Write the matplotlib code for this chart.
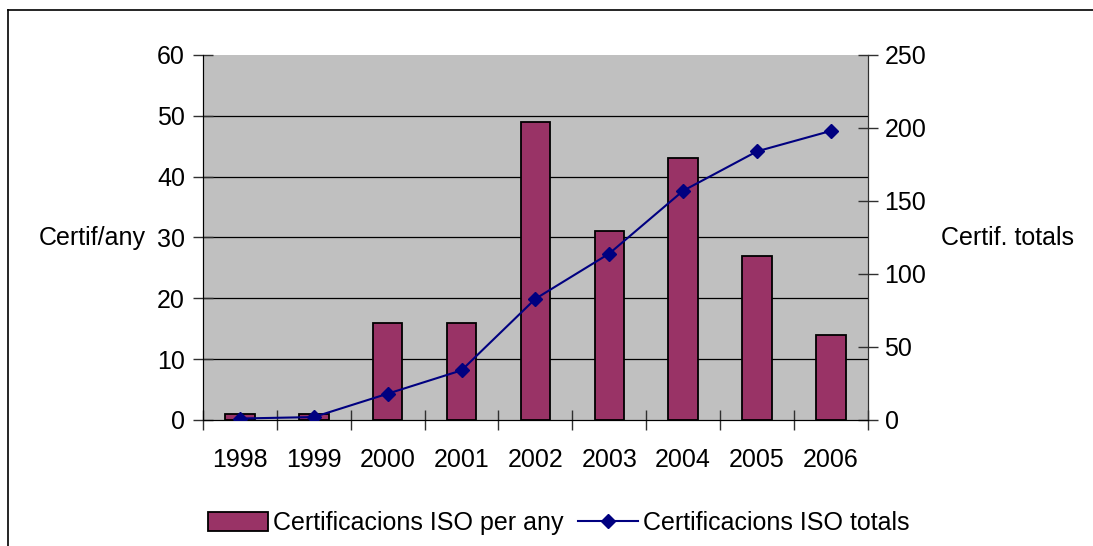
import matplotlib.pyplot as plt
import numpy as np
from matplotlib.lines import Line2D

plt.rcParams["font.family"] = ["Liberation Sans", "DejaVu Sans"]

years = ["1998", "1999", "2000", "2001", "2002", "2003", "2004", "2005", "2006"]
per_year = [1, 1, 16, 16, 49, 31, 43, 27, 14]
totals = [1, 2, 18, 34, 83, 114, 157, 184, 198]

BAR_COLOR = "#993366"
LINE_COLOR = "#000080"
FS = 18


def main():
    fig = plt.figure(figsize=(10.93, 5.46), dpi=100)
    ax = fig.add_axes([0.1857, 0.2308, 0.6083, 0.6685])
    ax.set_facecolor("#c0c0c0")

    x = np.arange(len(years))
    ax.bar(x, per_year, width=0.4, color=BAR_COLOR, edgecolor="black",
           linewidth=1.3, zorder=3)
    ax.set_xlim(-0.5, len(years) - 0.5)
    ax.set_ylim(0, 60)
    ax.set_yticks(range(0, 61, 10))
    ax.hlines(range(10, 60, 10), -0.5, len(years) - 0.5, colors="black",
              linewidth=0.9, zorder=1)

    # category labels centred, tick marks between categories
    ax.set_xticks(x)
    ax.set_xticklabels(years)
    ax.set_xticks(np.arange(-0.5, len(years)), minor=True)
    ax.tick_params(axis="x", which="major", length=0, pad=20, labelsize=FS)
    ax.tick_params(axis="x", which="minor", length=14, direction="inout",
                   width=1, color="#303030")
    ax.tick_params(axis="y", length=14, direction="inout", width=1,
                   color="#303030", labelsize=FS, pad=6)

    ax.spines["top"].set_visible(False)
    ax.spines["left"].set_color("#303030")
    ax.spines["right"].set_color("#303030")
    ax.spines["bottom"].set_color("black")

    ax2 = ax.twinx()
    ax2.plot(x, totals, color=LINE_COLOR, marker="D", markersize=7,
             linewidth=1.5, zorder=4)
    ax2.set_ylim(0, 250)
    ax2.set_yticks(range(0, 251, 50))
    ax2.tick_params(axis="y", length=14, direction="inout", width=1,
                    color="#303030", labelsize=FS, pad=5)
    ax2.spines["top"].set_visible(False)
    ax2.spines["right"].set_color("#303030")

    fig.text(0.133, 0.565, "Certif/any", ha="right", va="center", fontsize=FS)
    fig.text(0.861, 0.565, "Certif. totals", ha="left", va="center", fontsize=FS)

    handles = [
        plt.Rectangle((0, 0), 1, 1, facecolor=BAR_COLOR, edgecolor="black",
                      linewidth=1.3),
        Line2D([], [], color=LINE_COLOR, marker="D", markersize=7, linewidth=1.5),
    ]
    fig.legend(handles, ["Certificacions ISO per any", "Certificacions ISO totals"],
               loc="center", bbox_to_anchor=(0.511, 0.042), ncol=2, frameon=False,
               fontsize=FS, handlelength=2.4, handleheight=0.8,
               handletextpad=0.2, columnspacing=0.6)

    # outer chart border (left and top edges visible)
    fig.add_artist(Line2D([0.0075, 0.0075], [0, 0.981], color="black",
                          linewidth=1.2, transform=fig.transFigure))
    fig.add_artist(Line2D([0.0075, 1.0], [0.981, 0.981], color="black",
                          linewidth=1.2, transform=fig.transFigure))

    fig.savefig("out.png", dpi=100)


if __name__ == "__main__":
    main()
